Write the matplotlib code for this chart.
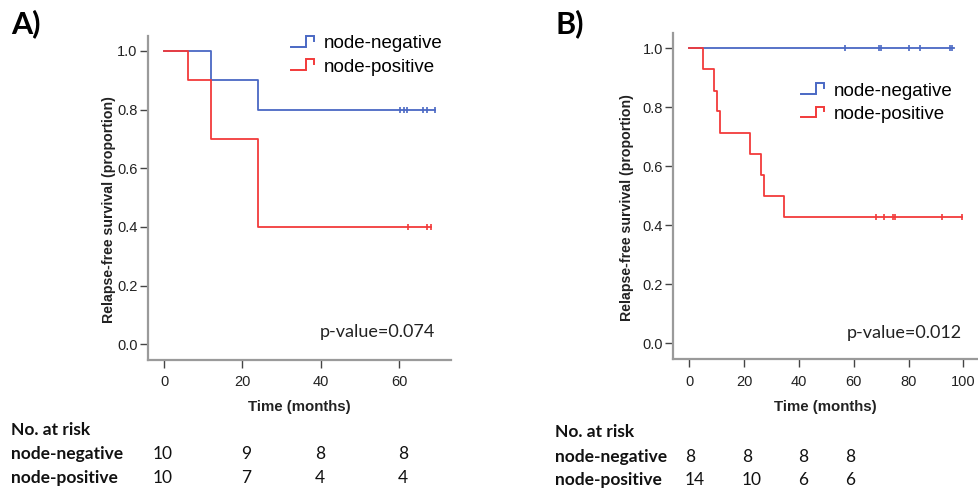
import numpy as np
import matplotlib
matplotlib.use("Agg")
import matplotlib.pyplot as plt
from matplotlib.legend_handler import HandlerBase
from matplotlib.lines import Line2D

# ---------------- data ----------------
groups = ["node-negative", "node-positive"]

# Panel A
a_neg_times = [0, 12, 24]
a_neg_surv = [1.0, 0.9, 0.8]
a_neg_end = 69.2
a_neg_cens = [60.1, 61.1, 62.0, 66.1, 67.1, 69.2]

a_pos_times = [0, 6, 12, 24]
a_pos_surv = [1.0, 0.9, 0.7, 0.4]
a_pos_end = 68.2
a_pos_cens = [62.2, 67.1, 68.2]

a_risk_neg = [10, 9, 8, 8]
a_risk_pos = [10, 7, 4, 4]
a_pvalue = "p-value=0.074"

# Panel B
b_neg_times = [0]
b_neg_surv = [1.0]
b_neg_end = 96.6
b_neg_cens = [56.9, 69.3, 69.9, 80.0, 84.1, 95.0, 96.0]

b_pos_times = [0, 5, 9, 10.2, 11.2, 22, 26, 27.2, 34.5]
b_pos_surv = [1.0, 0.929, 0.857, 0.786, 0.714, 0.643, 0.571, 0.5, 0.429]
b_pos_end = 99.3
b_pos_cens = [68.1, 71.2, 74.2, 75.2, 92.2, 99.3]

b_risk_neg = [8, 8, 8, 8]
b_risk_pos = [14, 10, 6, 6]
b_pvalue = "p-value=0.012"

# ---------------- style ----------------
BLUE = "#4a68c4"
RED = "#f23a3a"
SPINE = "#9a9a9a"
W, H = 979, 490
DPI = 100

fig = plt.figure(figsize=(W / DPI, H / DPI), dpi=DPI)


def px_axes(l, t, r, b):
    return fig.add_axes([l / W, 1 - b / H, (r - l) / W, (b - t) / H])


class StepHandler(HandlerBase):
    def create_artists(self, legend, orig_handle, xdescent, ydescent,
                       width, height, fontsize, trans):
        xs = np.array([0.0, 0.62, 0.62, 1.0, 1.0]) * width - xdescent
        ys = np.array([0.1, 0.1, 1.0, 1.0, 0.6]) * height - ydescent
        ln = Line2D(xs, ys, color=orig_handle.get_color(), lw=1.4,
                    solid_joinstyle="miter")
        ln.set_transform(trans)
        return [ln]


def surv_at(times, surv, t):
    idx = np.searchsorted(times, t, side="right") - 1
    return np.asarray(surv)[idx]


def km(ax, times, surv, end, cens, color, label):
    tt = list(times) + [end]
    ss = list(surv) + [surv[-1]]
    ln, = ax.step(tt, ss, where="post", color=color, lw=1.3, label=label)
    ax.plot(cens, surv_at(times, surv, cens), ls="none", marker="|",
            ms=5, mew=1.2, color=color)
    return ln


def style_ax(ax, xlim, ylim, xticks):
    ax.set_xlim(*xlim)
    ax.set_ylim(*ylim)
    ax.set_xticks(xticks)
    ax.set_yticks([0.0, 0.2, 0.4, 0.6, 0.8, 1.0])
    ax.set_yticklabels(["0.0", "0.2", "0.4", "0.6", "0.8", "1.0"])
    for s in ["top", "right"]:
        ax.spines[s].set_visible(False)
    for s in ["left", "bottom"]:
        ax.spines[s].set_color(SPINE)
        ax.spines[s].set_linewidth(1.6)
    ax.tick_params(axis="both", direction="out", length=6, width=1.0,
                   color="#444444", labelsize=10.5, labelcolor="#222222")
    ax.tick_params(axis="y", pad=1.5)
    ax.tick_params(axis="x", pad=5)
    for lab in ax.get_xticklabels() + ax.get_yticklabels():
        lab.set_family("Liberation Sans")
    ax.set_xlabel("Time (months)", fontsize=10.8, fontweight="bold",
                  family="Liberation Sans", labelpad=8, color="#222222")
    ax.set_ylabel("Relapse-free survival (proportion)", fontsize=10.2,
                  fontweight="bold", family="Liberation Sans", labelpad=5,
                  color="#222222")
    ax.yaxis.set_label_coords(-0.105 if xlim[1] < 80 else -0.128, 0.465)


LEG_KW = dict(loc="upper left", frameon=False,
              handler_map={Line2D: StepHandler()},
              prop={"family": "Liberation Sans", "size": 13.5},
              handlelength=1.25, handleheight=0.62, handletextpad=0.48,
              labelspacing=0.33, borderpad=0, borderaxespad=0)

# ---------------- Panel A ----------------
axA = px_axes(148, 36, 450.7, 360)
h1 = km(axA, a_neg_times, a_neg_surv, a_neg_end, a_neg_cens, BLUE, groups[0])
h2 = km(axA, a_pos_times, a_pos_surv, a_pos_end, a_pos_cens, RED, groups[1])
style_ax(axA, (-4.08, 73.1), (-0.0535, 1.051), [0, 20, 40, 60])
axA.legend(handles=[h1, h2], labels=groups,
           bbox_to_anchor=(291 / W, 1 - 35.5 / H),
           bbox_transform=fig.transFigure, **LEG_KW)
axA.text(0.95, 0.085, a_pvalue, transform=axA.transAxes, ha="right",
         va="center", fontsize=13, family="Lato", color="#222222")

# ---------------- Panel B ----------------
axB = px_axes(673.3, 33.3, 978, 359.3)
h3 = km(axB, b_neg_times, b_neg_surv, b_neg_end, b_neg_cens, BLUE, groups[0])
h4 = km(axB, b_pos_times, b_pos_surv, b_pos_end, b_pos_cens, RED, groups[1])
style_ax(axB, (-5.8, 105.3), (-0.054, 1.051), [0, 20, 40, 60, 80, 100])
axB.legend(handles=[h3, h4], labels=groups,
           bbox_to_anchor=(801 / W, 1 - 83 / H),
           bbox_transform=fig.transFigure, **LEG_KW)
axB.text((961.7 - 673.3) / (978 - 673.3), (359.3 - 333.3) / (359.3 - 33.3),
         b_pvalue, transform=axB.transAxes, ha="right", va="center",
         fontsize=13, family="Lato", color="#222222")

# ---------------- panel letters ----------------
fig.text(11 / W, 1 - 23.5 / H, "A)", fontsize=22, fontweight="bold",
         family="Lato", va="center", ha="left")
fig.text(556 / W, 1 - 23.3 / H, "B)", fontsize=22, fontweight="bold",
         family="Lato", va="center", ha="left")

# ---------------- number-at-risk tables ----------------
def risk_table(x_label, ys, col_x, neg, pos):
    kw = dict(fontsize=12.5, family="Lato", va="center", ha="left",
              color="#111111")
    fig.text(x_label / W, 1 - ys[0] / H, "No. at risk", fontweight="bold", **kw)
    fig.text(x_label / W, 1 - ys[1] / H, groups[0], fontweight="bold", **kw)
    fig.text(x_label / W, 1 - ys[2] / H, groups[1], fontweight="bold", **kw)
    for cx, n, p in zip(col_x, neg, pos):
        fig.text(cx / W, 1 - ys[1] / H, str(n), **kw)
        fig.text(cx / W, 1 - ys[2] / H, str(p), **kw)


risk_table(11, [430, 454.3, 478.3], [153, 241.5, 315, 398],
           a_risk_neg, a_risk_pos)
risk_table(555, [431.7, 456.7, 480], [685, 741.7, 798.3, 845],
           b_risk_neg, b_risk_pos)

fig.savefig("out.png", dpi=DPI)
